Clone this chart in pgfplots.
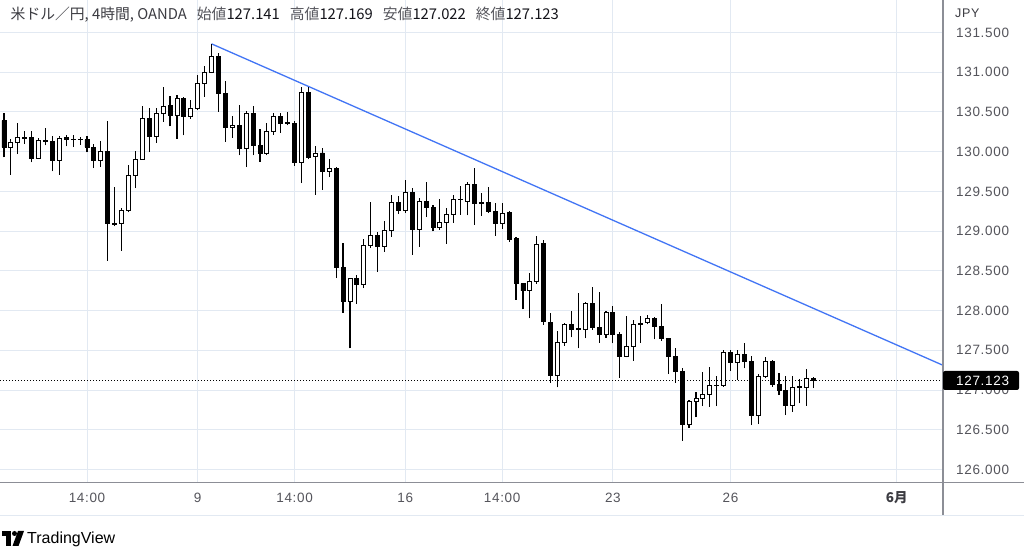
\documentclass[border=0pt]{standalone}
\usepackage{pgfplots}
\pgfplotsset{compat=1.18}
\usepackage{pgfplotstable}
\usepackage{fontspec}
\setmainfont{Liberation Sans}
\newfontfamily\jpfont{Noto Sans CJK JP}
\newfontfamily\axisfont[LetterSpace=5]{Liberation Sans}
\definecolor{gridc}{RGB}{226,233,242}
\definecolor{tvblue}{RGB}{66,117,245}
\definecolor{lblc}{RGB}{85,85,92}
\definecolor{sepc}{RGB}{140,142,150}
\definecolor{hdc}{RGB}{60,60,66}
\definecolor{valc}{RGB}{20,20,26}

\pgfplotstableread{
i o h l c
0 130.390 130.487 129.928 130.054
1 130.058 130.163 129.709 130.122
2 130.122 130.361 129.970 130.176
3 130.170 130.264 130.096 130.180
4 130.176 130.264 129.864 129.920
5 129.920 130.167 129.911 130.138
6 130.138 130.298 130.079 130.125
7 130.130 130.192 129.751 129.886
8 129.890 130.192 129.709 130.172
9 130.180 130.214 130.067 130.151
10 130.155 130.205 130.058 130.150
11 130.150 130.180 130.088 130.152
12 130.151 130.192 129.991 130.058
13 130.054 130.096 129.794 129.886
14 129.886 130.130 129.806 130.008
15 130.008 130.390 128.629 129.091
16 129.091 129.554 129.058 129.080
17 129.100 129.289 128.755 129.255
18 129.255 129.835 129.234 129.697
19 129.705 130.012 129.542 129.907
20 129.907 130.571 129.899 130.416
21 130.416 130.550 129.995 130.192
22 130.192 130.550 130.109 130.479
23 130.479 130.815 130.374 130.571
24 130.580 130.706 130.319 130.453
25 130.453 130.710 130.163 130.668
26 130.668 130.689 130.205 130.437
27 130.437 130.647 130.416 130.550
28 130.550 130.970 130.529 130.853
29 130.853 131.075 130.689 130.999
30 130.999 131.357 130.990 131.201
31 131.201 131.244 130.500 130.727
32 130.727 130.895 130.122 130.306
33 130.306 130.445 130.172 130.330
34 130.331 130.583 129.953 130.037
35 130.037 130.516 129.806 130.475
36 130.475 130.571 129.953 130.079
37 130.079 130.289 129.870 129.983
38 129.983 130.361 129.953 130.256
39 130.256 130.487 130.214 130.445
40 130.445 130.487 130.235 130.353
41 130.353 130.500 130.331 130.362
42 130.353 130.382 129.823 129.870
43 129.870 130.815 129.605 130.747
44 130.747 130.815 129.907 129.932
45 129.941 130.075 129.457 129.983
46 129.983 130.046 129.520 129.751
47 129.751 129.911 129.680 129.785
48 129.794 129.806 128.407 128.545
49 128.545 128.848 127.973 128.112
50 128.112 128.407 127.524 128.398
51 128.398 128.448 128.083 128.331
52 128.331 128.902 128.281 128.818
53 128.818 129.360 128.785 128.944
54 128.944 128.987 128.490 128.805
55 128.805 129.121 128.742 129.007
56 129.007 129.457 128.931 129.365
57 129.365 129.444 129.213 129.259
58 129.259 129.646 129.226 129.486
59 129.490 129.542 128.700 129.016
60 129.016 129.415 128.805 129.373
61 129.373 129.612 129.176 129.297
62 129.297 129.331 128.995 129.050
63 129.050 129.402 129.016 129.108
64 129.108 129.289 128.839 129.205
65 129.205 129.457 129.108 129.394
66 129.394 129.562 129.205 129.402
67 129.373 129.612 129.197 129.592
68 129.592 129.794 129.079 129.352
69 129.352 129.478 129.192 129.362
70 129.365 129.549 129.226 129.247
71 129.247 129.352 128.944 129.091
72 129.100 129.352 129.028 129.226
73 129.234 129.247 128.868 128.890
74 128.902 128.931 128.133 128.335
75 128.335 128.343 128.016 128.247
76 128.247 128.477 127.902 128.364
77 128.364 128.940 128.340 128.835
78 128.839 128.890 127.818 127.860
79 127.852 127.973 127.090 127.178
80 127.178 127.742 127.032 127.595
81 127.600 127.839 127.557 127.826
82 127.826 127.993 127.662 127.767
83 127.767 128.217 127.524 127.772
84 127.767 128.112 127.650 128.091
85 128.091 128.293 127.755 127.784
86 127.784 128.238 127.595 127.700
87 127.700 128.000 127.658 127.973
88 127.973 128.057 127.587 127.704
89 127.704 127.725 127.153 127.427
90 127.427 127.931 127.410 127.553
91 127.553 127.881 127.368 127.826
92 127.826 127.931 127.595 127.840
93 127.852 127.944 127.826 127.898
94 127.902 127.914 127.637 127.797
95 127.797 128.083 127.620 127.650
96 127.650 127.660 127.200 127.427
97 127.427 127.524 127.090 127.229
98 127.229 127.271 126.359 126.565
99 126.565 126.872 126.527 126.851
100 126.851 126.977 126.654 126.893
101 126.893 127.221 126.796 126.944
102 126.944 127.292 126.788 127.052
103 127.052 127.178 126.796 127.060
104 127.052 127.503 127.040 127.469
105 127.469 127.503 127.238 127.342
106 127.342 127.503 127.124 127.448
107 127.448 127.587 127.271 127.364
108 127.364 127.427 126.557 126.683
109 126.683 127.196 126.569 127.175
110 127.175 127.418 127.145 127.355
111 127.355 127.376 127.040 127.074
112 127.074 127.208 126.935 126.998
113 126.998 127.175 126.683 126.809
114 126.809 127.175 126.725 127.032
115 127.032 127.133 126.830 127.040
116 127.032 127.259 126.800 127.141
117 127.141 127.169 127.022 127.123
}\candles

\begin{document}
\begin{tikzpicture}
\useasboundingbox (0pt,0pt) rectangle (1024pt,548pt);
\fill[white] (0pt,0pt) rectangle (1024pt,548pt);

\begin{axis}[
  at={(0pt,65pt)}, anchor=south west,
  scale only axis, width=943pt, height=483pt,
  xmin=-0.572, xmax=135.70, ymin=125.829, ymax=131.909,
  axis line style={draw=none},
  tick style={draw=none}, major tick length=0pt,
  xtick={12,28,42,58,72,88,105,129},
  xticklabels={14:00,9,14:00,16,14:00,23,26,{\jpfont\bfseries\textcolor{hdc}{6月}}},
  ytick={126,126.5,127,127.5,128,128.5,129,129.5,130,130.5,131,131.5},
  yticklabels={126.000,126.500,127.000,127.500,128.000,128.500,129.000,129.500,130.000,130.500,131.000,131.500},
  yticklabel pos=right,
  grid=major,
  major grid style={draw=gridc, line width=0.9pt},
  yticklabel style={anchor=west, inner sep=0pt, xshift=13pt, font=\axisfont\fontsize{13.5}{15}\selectfont, text=lblc},
  xticklabel style={anchor=base, inner sep=0pt, yshift=-20pt, font=\axisfont\fontsize{13.5}{15}\selectfont, text=lblc},
]
\addplot[tvblue, line width=1.3pt] coordinates {(30,131.357) (136.5,127.280)};
\addplot[black, line width=0.9pt, dash pattern=on 1pt off 2pt] coordinates {(-1,127.123) (137,127.123)};
\addplot[draw=none, mark=none, no markers, mark size=0pt,
  error bars/.cd, y dir=plus, y explicit, error mark=none,
  error bar style={draw=black, line width=1.1pt}]
  table[x=i, y=l, y error plus expr={\thisrow{h}-\thisrow{l}}] {\candles};
\end{axis}

\begin{axis}[
  at={(0pt,65pt)}, anchor=south west,
  scale only axis, width=943pt, height=483pt,
  xmin=-0.572, xmax=135.70, ymin=125.829, ymax=131.909,
  hide axis, ybar stacked, bar width=4pt,
]
\addplot[draw=none, fill=none] table[x=i, y expr={min(\thisrow{o},\thisrow{c})}] {\candles};
\addplot[fill=white, draw=black, line width=0.9pt] table[x=i, y expr={max(\thisrow{c}-\thisrow{o},0)}] {\candles};
\addplot[fill=black, draw=black, line width=0.9pt] table[x=i, y expr={max(\thisrow{o}-\thisrow{c},0)}] {\candles};
\end{axis}

% frame lines
\draw[sepc, line width=1.2pt] (943pt,548pt) -- (943pt,33pt);
\draw[sepc, line width=1pt] (0pt,65pt) -- (1024pt,65pt);
\draw[gridc, line width=0.8pt] (0pt,33pt) -- (1024pt,33pt);

% last price label
\fill[black, rounded corners=2pt] (943pt,158pt) rectangle (1019pt,177pt);
\node[anchor=west, inner sep=0pt, text=white] at (956pt,167.5pt) {\axisfont\fontsize{13.5}{15}\selectfont 127.123};

% currency
\node[anchor=west, inner sep=0pt, text=hdc] at (955pt,535pt) {\axisfont\fontsize{12.5}{14}\selectfont JPY};

% header
\node[anchor=west, inner sep=0pt] at (10.5pt,533pt) {\jpfont\fontsize{14.8}{17}\selectfont
  \textcolor{hdc}{米ドル／円, 4時間, OANDA}\hspace{10pt}%
  \textcolor{lblc}{始値}\textcolor{valc}{127.141}\hspace{10pt}%
  \textcolor{lblc}{高値}\textcolor{valc}{127.169}\hspace{10pt}%
  \textcolor{lblc}{安値}\textcolor{valc}{127.022}\hspace{10pt}%
  \textcolor{lblc}{終値}\textcolor{valc}{127.123}};

% TradingView logo
\fill[black] (2pt,17pt) rectangle (11pt,12pt);
\fill[black] (6pt,17pt) rectangle (11pt,2pt);
\fill[black] (14.5pt,14.5pt) circle (2.5pt);
\fill[black] (18pt,17pt) -- (24pt,17pt) -- (18.5pt,2pt) -- (12.5pt,2pt) -- cycle;
\node[anchor=west, inner sep=0pt] at (27pt,9pt) {\fontsize{16}{18}\selectfont TradingView};
\end{tikzpicture}
\end{document}
